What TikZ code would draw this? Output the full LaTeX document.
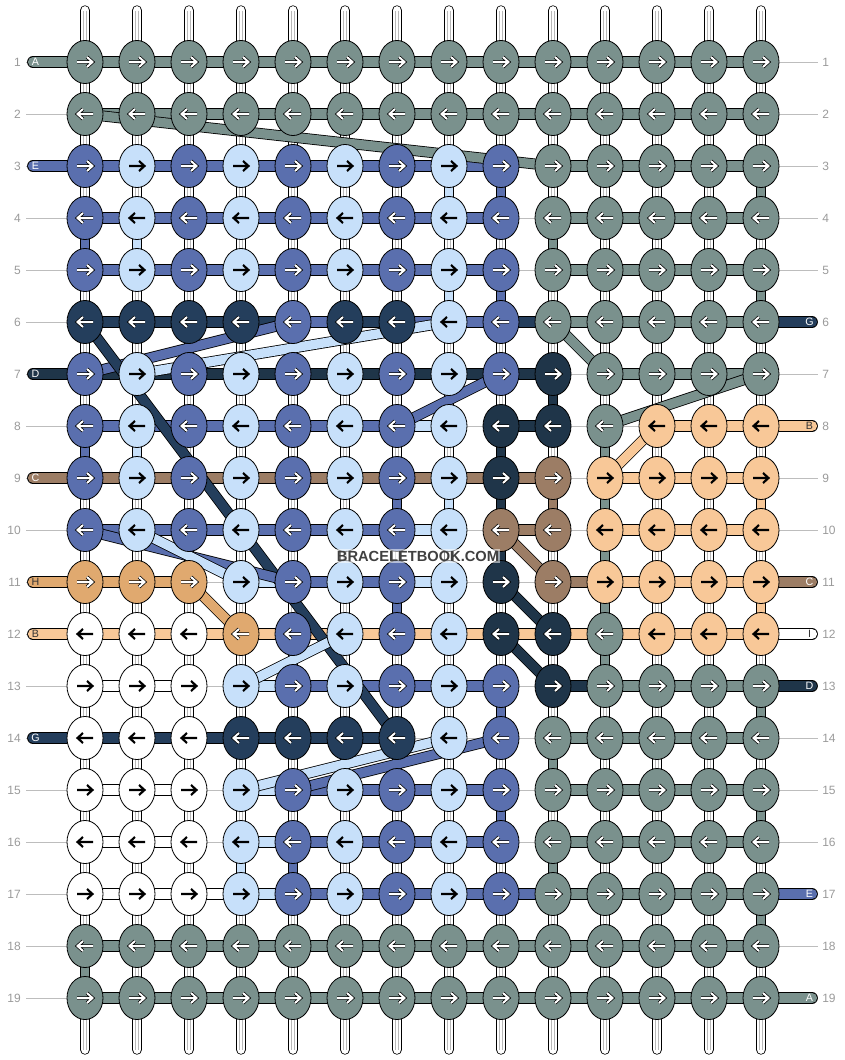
\documentclass[tikz,border=0pt]{standalone}
\usepackage{fontspec}
\setmainfont{Liberation Sans}
\usetikzlibrary{shapes.geometric}
\usetikzlibrary{positioning}

\definecolor{colG}{HTML}{7A918D}
\definecolor{colB}{HTML}{5A6FAE}
\definecolor{colL}{HTML}{C7E0FA}
\definecolor{colN}{HTML}{243E5C}
\definecolor{colD}{HTML}{1F3549}
\definecolor{colK}{HTML}{9C7D65}
\definecolor{colP}{HTML}{F8C898}
\definecolor{colO}{HTML}{E0A96F}
\definecolor{colW}{HTML}{FFFFFF}
\definecolor{guidegray}{HTML}{BDBDBD}
\definecolor{numgray}{HTML}{9A9A9A}

\pgfdeclarelayer{threads}
\pgfdeclarelayer{cross}
\pgfsetlayers{threads,cross,main}

\def\nobar{x}

\tikzset{
  knot/.style={ellipse, draw=black, line width=0.6pt, fill=col#1,
    minimum width=27pt, minimum height=32.3pt, inner sep=0pt},
  whitearrow/.style={draw=white, line width=1.5pt,
    preaction={draw=black, line width=2.6pt}},
  blackarrow/.style={draw=black, line width=1.6pt},
  arr G/.style=whitearrow, arr B/.style=whitearrow, arr N/.style=whitearrow,
  arr D/.style=whitearrow, arr K/.style=whitearrow, arr O/.style=whitearrow,
  arr L/.style=blackarrow, arr P/.style=blackarrow, arr W/.style=blackarrow,
  bar/.style={draw=black, line width=0.6pt, double=col#1, double distance=7.6pt},
  rod/.style={draw=black, line width=0.6pt, double=col#1, double distance=6.6pt},
  warpcore/.style={draw=black!28, line width=0.45pt, double=white, double distance=2pt},
  slant/.style={draw=black, line width=0.6pt, double=col#1, double distance=7pt},
  guide/.style={draw=guidegray, line width=0.6pt},
  rownum/.style={text=numgray, font=\fontsize{9}{10}\selectfont, inner sep=0pt},
  tag/.style={font=\fontsize{8}{9}\selectfont, inner sep=0pt}
}

\begin{document}
\begin{tikzpicture}[x=0.75pt, y=-0.75pt]
\useasboundingbox (0,0) rectangle (844,1060);

% knots
\foreach \r/\row in {
  1/{G,G,G,G,G,G,G,G,G,G,G,G,G,G},
  2/{G,G,G,G,G,G,G,G,G,G,G,G,G,G},
  3/{B,L,B,L,B,L,B,L,B,G,G,G,G,G},
  4/{B,L,B,L,B,L,B,L,B,G,G,G,G,G},
  5/{B,L,B,L,B,L,B,L,B,G,G,G,G,G},
  6/{N,N,N,N,B,N,N,L,B,G,G,G,G,G},
  7/{B,L,B,L,B,L,B,L,B,D,G,G,G,G},
  8/{B,L,B,L,B,L,B,L,D,D,G,P,P,P},
  9/{B,L,B,L,B,L,B,L,D,K,P,P,P,P},
  10/{B,L,B,L,B,L,B,L,K,K,P,P,P,P},
  11/{O,O,O,L,B,L,B,L,D,K,P,P,P,P},
  12/{W,W,W,O,B,L,B,L,D,D,G,P,P,P},
  13/{W,W,W,L,B,L,B,L,B,D,G,G,G,G},
  14/{W,W,W,N,N,N,N,L,B,G,G,G,G,G},
  15/{W,W,W,L,B,L,B,L,B,G,G,G,G,G},
  16/{W,W,W,L,B,L,B,L,B,G,G,G,G,G},
  17/{W,W,W,L,B,L,B,L,B,G,G,G,G,G},
  18/{G,G,G,G,G,G,G,G,G,G,G,G,G,G},
  19/{G,G,G,G,G,G,G,G,G,G,G,G,G,G}} {
  \pgfmathtruncatemacro\dir{isodd(\r) ? 1 : -1}
  \foreach \k [count=\c from 0] in \row {
    \node[knot=\k] (k-\r-\c) at ({85+52*\c},{62+52*(\r-1)}) {};
    \draw[arr \k, shift={(k-\r-\c.center)}, xscale=\dir]
      (-8,0) -- (7,0) (2,-5) -- (7.5,0) -- (2,5);
  }
}

\begin{pgfonlayer}{threads}
  % row guides and numbers
  \foreach \r in {1,...,19} {
    \coordinate (gl-\r) at (26,{62+52*(\r-1)});
    \coordinate (gr-\r) at (818,{62+52*(\r-1)});
    \draw[guide] (gl-\r) -- (gr-\r);
    \node[rownum, anchor=east] (nl-\r) at (21,{62+52*(\r-1)}) {\r};
    \node[rownum, anchor=west] (nr-\r) at (822,{62+52*(\r-1)}) {\r};
  }
  % warps
  \foreach \c in {0,...,13} {
    \coordinate (wt-\c) at ({85+52*\c},10.5);
    \coordinate (wb-\c) at ({85+52*\c},1049.5);
    \draw[rod=W, line cap=round] (wt-\c) -- (k-1-\c.center);
    \draw[rod=W, line cap=round] (k-19-\c.center) -- (wb-\c);
    \draw[warpcore] (wt-\c) -- (k-1-\c.center);
    \draw[warpcore] (k-19-\c.center) -- (wb-\c);
    \foreach \r in {1,...,18} {
      \pgfmathtruncatemacro\rn{\r+1}
      \draw[rod=W] (k-\r-\c.center) -- (k-\rn-\c.center);
      \draw[warpcore] (k-\r-\c.center) -- (k-\rn-\c.center);
    }
  }
  % coloured warps
  \foreach \r/\c/\k in {3/7/L,3/8/B,3/13/G,4/0/B,4/1/L,4/9/G,5/7/L,5/8/B,5/13/G,
      7/9/D,8/0/B,8/1/L,8/8/D,8/10/G,9/6/B,9/7/L,9/8/D,9/9/K,9/10/G,9/13/P,
      10/8/D,10/10/G,11/6/B,11/10/G,11/13/P,12/4/B,12/10/G,13/8/B,13/13/G,
      14/9/G,15/8/B,15/13/G,16/3/L,16/4/B,16/9/G,17/13/G,18/0/G} {
    \pgfmathtruncatemacro\rn{\r+1}
    \draw[rod=\k] (k-\r-\c.center) -- (k-\rn-\c.center);
  }
  % rows
  \foreach \r/\segs in {
    1/{G,G,G,G,G,G,G,G,G,G,G,G,G},
    2/{G,G,G,G,G,G,G,G,G,G,G,G,G},
    3/{B,B,B,B,B,B,B,B,x,G,G,G,G},
    4/{B,B,B,B,B,B,B,B,x,G,G,G,G},
    5/{B,B,B,B,B,B,B,B,x,G,G,G,G},
    6/{N,N,N,N,B,N,B,B,N,G,G,G,G},
    7/{D,D,D,D,D,D,D,D,D,x,G,G,G},
    8/{B,B,B,B,B,B,L,x,D,x,x,P,P},
    9/{K,K,K,K,K,K,K,K,K,x,P,P,P},
    10/{B,B,B,B,B,B,L,x,K,x,P,P,P},
    11/{O,O,x,L,B,B,L,x,x,K,P,P,P},
    12/{P,P,P,P,P,P,P,P,P,P,P,P,P},
    13/{W,W,x,L,B,B,B,B,x,D,G,G,G},
    14/{N,N,N,N,N,N,x,x,x,G,G,G,G},
    15/{W,W,x,L,B,B,B,B,x,G,G,G,G},
    16/{W,W,x,L,B,B,B,B,x,G,G,G,G},
    17/{W,W,W,L,B,B,B,B,B,G,G,G,G},
    18/{G,G,G,G,G,G,G,G,G,G,G,G,G},
    19/{G,G,G,G,G,G,G,G,G,G,G,G,G}} {
    \foreach \s [count=\c from 0] in \segs {
      \ifx\s\nobar\else
        \pgfmathtruncatemacro\cn{\c+1}
        \draw[bar=\s] (k-\r-\c.center) -- (k-\r-\cn.center);
      \fi
    }
  }
  % thread ends, left
  \foreach \r/\t/\k/\tc in {1/A/G/white,3/E/B/white,7/D/D/white,9/C/K/white,
      11/H/O/black!80,12/B/P/black!80,14/G/N/white} {
    \coordinate (el-\r) at (33,{62+52*(\r-1)});
    \draw[bar=\k, line cap=round] (el-\r) -- (k-\r-0.center);
    \node[tag, text=\tc] (tl-\r) at (35.5,{62+52*(\r-1)}) {\t};
  }
  % thread ends, right
  \foreach \r/\t/\k/\tc in {6/G/N/white,8/B/P/black!80,11/C/K/white,12/I/W/black!80,
      13/D/D/white,17/E/B/white,19/A/G/white} {
    \coordinate (er-\r) at (812,{62+52*(\r-1)});
    \draw[bar=\k, line cap=round] (k-\r-13.center) -- (er-\r);
    \node[tag, text=\tc] (tr-\r) at (809.5,{62+52*(\r-1)}) {\t};
  }
\end{pgfonlayer}

% threads changing rows
\begin{pgfonlayer}{cross}
  \foreach \ra/\ca/\rb/\cb/\k in {2/0/3/9/G,7/0/6/4/B,7/1/6/7/L,6/0/14/6/N,
      8/6/7/8/B,6/9/7/10/G,8/10/7/13/G,9/10/8/11/P,10/8/11/9/K,11/8/12/9/D,
      12/8/13/9/D,11/2/12/3/O,10/0/11/4/B,10/1/11/3/L,13/3/12/5/L,
      15/3/14/7/L,15/4/14/8/B}
    \draw[slant=\k] (k-\ra-\ca.center) -- (k-\rb-\cb.center);
\end{pgfonlayer}

\node[font=\bfseries\fontsize{11}{12}\selectfont, text=black!75, fill=white,
  fill opacity=0.55, text opacity=1, inner sep=1pt] (mark) at (418,556) {BRACELETBOOK.COM};
\end{tikzpicture}
\end{document}
